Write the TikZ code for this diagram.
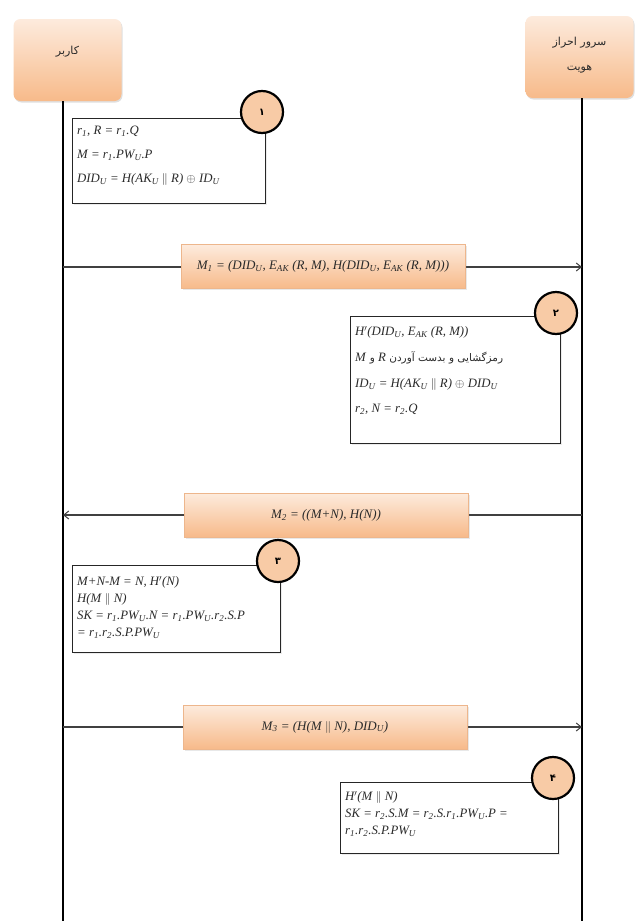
\documentclass[tikz,border=0pt]{standalone}
\usepackage{fontspec}
\setmainfont{Liberation Serif}
\newfontfamily\arabicfont[Script=Arabic]{DejaVu Sans}
\TeXXeTstate=1
\usetikzlibrary{shadows,arrows.meta}
\definecolor{peachtop}{HTML}{FDEBDD}
\definecolor{peachbot}{HTML}{F7BA8A}
\definecolor{peachedge}{HTML}{EDB68C}
\definecolor{circfill}{HTML}{F8CBA6}
\definecolor{inkc}{HTML}{2A2A2A}
\newcommand\sbs[1]{\textsubscript{#1}}
\newcommand\fa[1]{{\arabicfont\beginR #1\endR}}
\begin{document}
\begin{tikzpicture}[x=1pt,y=-1pt,
  hdr/.style={rounded corners=7pt, top color=peachtop, bottom color=peachbot,
    drop shadow={opacity=0.25,shadow xshift=1pt,shadow yshift=-1.5pt},
    minimum width=108pt, minimum height=82pt, inner sep=0pt},
  hdrtext/.style={inner sep=0pt, align=center, text=inkc,
    font=\arabicfont\fontsize{11}{25}\selectfont},
  life/.style={line width=2pt, black},
  msg/.style={line width=1.1pt, black!75, -{Straight Barb[length=5pt,width=8pt,line width=1pt]}},
  lbl/.style={top color=peachtop, bottom color=peachbot, draw=peachedge, line width=0.6pt,
    minimum width=284pt, minimum height=44pt, inner sep=0pt, text=inkc,
    drop shadow={opacity=0.18,shadow xshift=1.5pt,shadow yshift=-1.5pt},
    font=\fontsize{13}{15}\selectfont\itshape},
  stepbox/.style={draw=black!85, line width=1.3pt, fill=white, anchor=north west,
    inner sep=0pt,
    drop shadow={opacity=0.15,shadow xshift=1.5pt,shadow yshift=-1.5pt}},
  steptext/.style={anchor=north west, inner sep=0pt, align=left, text=inkc,
    font=\fontsize{12.8}{17}\selectfont\itshape},
  num/.style={circle, draw=black, line width=2.2pt, fill=circfill, minimum size=42pt,
    inner sep=0pt, font=\arabicfont\bfseries\fontsize{10}{10}\selectfont}
]
\useasboundingbox (0,0) rectangle (637,921);
\fill[white] (0,0) rectangle (637,921);

% headers
\node[hdr] (user) at (67.5,60) {};
\node[hdrtext] (usert) at (67.5,52) {\fa{کاربر}};
\node[hdr] (server) at (579.5,57) {};
\node[hdrtext] (servert) at (579.5,55) {\fa{سرور احراز}\\\fa{هویت}};

% lifelines
\coordinate (utop) at (63,101);
\coordinate (ubot) at (63,921);
\coordinate (stop) at (582,98);
\coordinate (sbot) at (582,921);
\draw[life] (utop) -- (ubot);
\draw[life] (stop) -- (sbot);

% step 1
\node[stepbox, minimum width=193pt, minimum height=85pt] (b1) at (72,118) {};
\node[steptext] (t1) at ([shift={(5,8)}]b1.north west)
  {r\sbs{1}, R = r\sbs{1}.Q\\[7pt]
   M = r\sbs{1}.PW\sbs{U}.P\\[7pt]
   DID\sbs{U} = H(AK\sbs{U} $\|$ R) $\oplus$ ID\sbs{U}};
\node[num] (c1) at (262,112) {۱};

% message 1
\coordinate (m1a) at (63,267);
\coordinate (m1b) at (582,267);
\draw[msg] (m1a) -- (m1b);
\node[lbl] (l1) at (323,266.5)
  {M\sbs{1} = (DID\sbs{U}, E\sbs{AK} (R, M), H(DID\sbs{U}, E\sbs{AK} (R, M)))};

% step 2
\node[stepbox, minimum width=210pt, minimum height=127pt] (b2) at (350,316) {};
\node[steptext] (t2) at ([shift={(5,10)}]b2.north west)
  {H$'$(DID\sbs{U}, E\sbs{AK} (R, M))\\[9pt]
   {\upshape\arabicfont\fontsize{10.5}{17}\selectfont\beginR رمزگشایی و بدست آوردن \beginL\textrm{\itshape\fontsize{12.8}{17}\selectfont R}\endL{} و \beginL\textrm{\itshape\fontsize{12.8}{17}\selectfont M}\endL\endR}\\[9pt]
   ID\sbs{U} = H(AK\sbs{U} $\|$ R) $\oplus$ DID\sbs{U}\\[8pt]
   r\sbs{2}, N = r\sbs{2}.Q};
\node[num] (c2) at (556,313) {۲};

% message 2
\coordinate (m2a) at (582,515);
\coordinate (m2b) at (63,515);
\draw[msg] (m2a) -- (m2b);
\node[lbl] (l2) at (326,515)
  {M\sbs{2} = ((M+N), H(N))};

% step 3
\node[stepbox, minimum width=208pt, minimum height=87pt] (b3) at (72,565) {};
\node[steptext] (t3) at ([shift={(5,11)}]b3.north west)
  {M+N-M = N, H$'$(N)\\
   H(M $\|$ N)\\
   SK = r\sbs{1}.PW\sbs{U}.N = r\sbs{1}.PW\sbs{U}.r\sbs{2}.S.P\\
   = r\sbs{1}.r\sbs{2}.S.P.PW\sbs{U}};
\node[num] (c3) at (278,561) {۳};

% message 3
\coordinate (m3a) at (63,727);
\coordinate (m3b) at (582,727);
\draw[msg] (m3a) -- (m3b);
\node[lbl] (l3) at (325,727)
  {M\sbs{3} = (H(M $\|$ N), DID\sbs{U})};

% step 4
\node[stepbox, minimum width=218pt, minimum height=71pt] (b4) at (340,782) {};
\node[steptext] (t4) at ([shift={(5,9)}]b4.north west)
  {H$'$(M $\|$ N)\\
   SK = r\sbs{2}.S.M = r\sbs{2}.S.r\sbs{1}.PW\sbs{U}.P =\\
   r\sbs{1}.r\sbs{2}.S.P.PW\sbs{U}};
\node[num] (c4) at (553,778) {۴};
\end{tikzpicture}
\end{document}
